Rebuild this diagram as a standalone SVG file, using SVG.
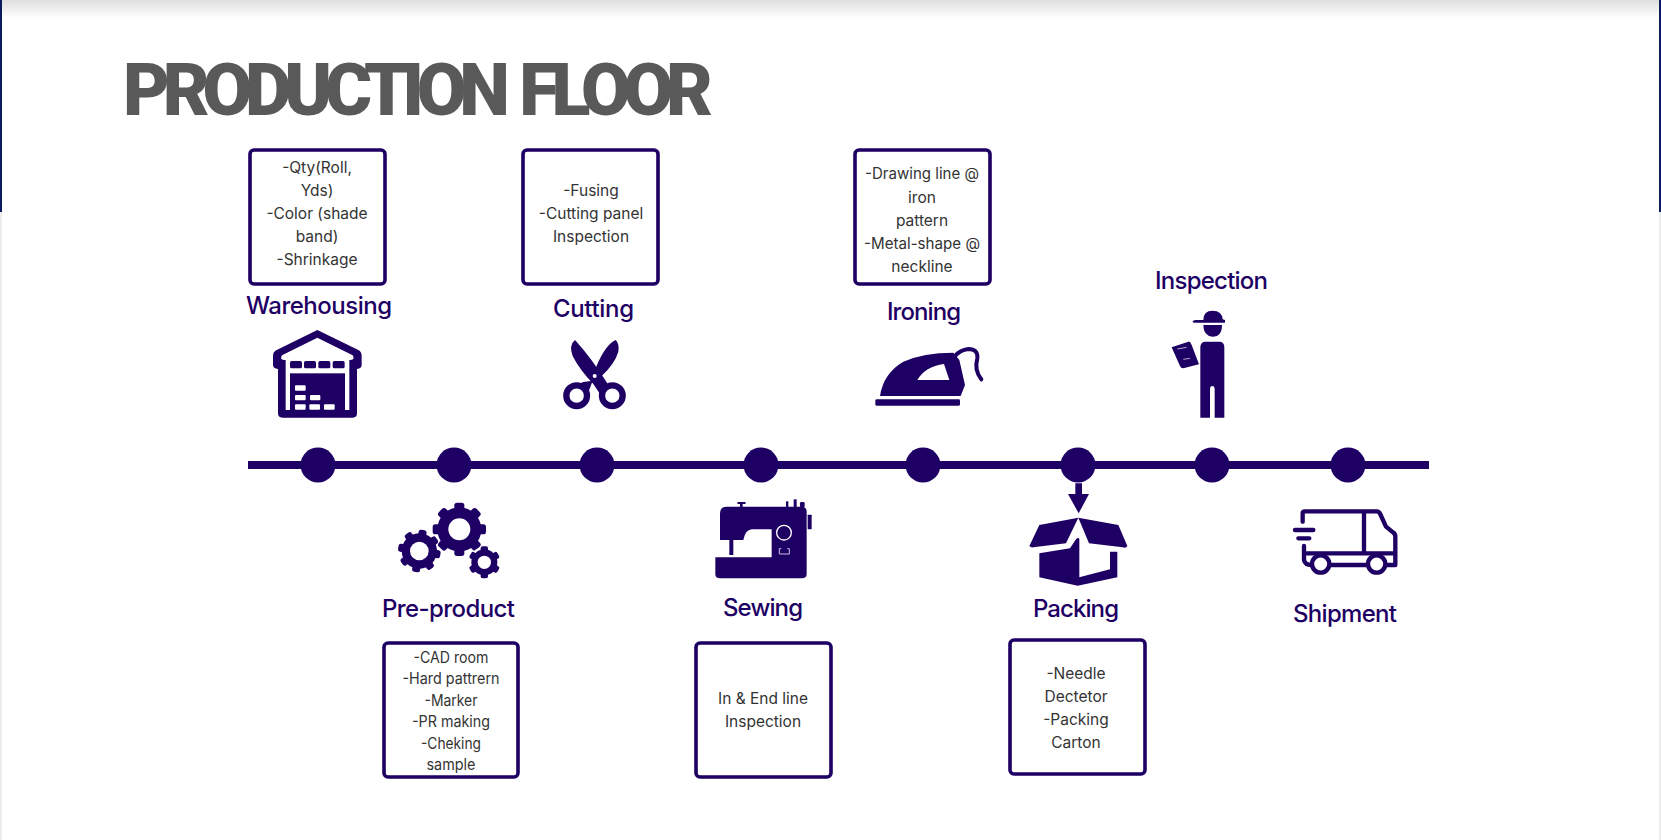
<svg xmlns="http://www.w3.org/2000/svg" width="1661" height="840" viewBox="0 0 1661 840">
<defs>
<linearGradient id="top" x1="0" y1="0" x2="0" y2="1"><stop offset="0" stop-color="#dedede"/><stop offset="1" stop-color="#ffffff"/></linearGradient>
<rect id="tooth1" x="-80" y="-15" width="160" height="30" rx="8"/>
<rect id="tooth2" x="-64" y="-12" width="128" height="24" rx="7"/>
<rect id="tooth3" x="-48" y="-11" width="96" height="22" rx="6"/>
</defs>
<style>
.n{fill:#1e0064}
.w{fill:#fff}
.s{fill:none;stroke:#1e0064;stroke-linecap:round;stroke-linejoin:round}
.box{fill:#fff;stroke:#1e0064;stroke-width:3.6}
.t{font-family:Inter,"Liberation Sans",sans-serif;font-size:15.5px;fill:#333;text-anchor:middle}
.l{font-family:Inter,"Liberation Sans",sans-serif;font-size:24px;font-weight:500;fill:#1e0064}
.title{font-family:Roboto,"Liberation Sans",sans-serif;font-size:72px;font-weight:900;fill:#595959;word-spacing:6px}
</style>
<rect width="1661" height="840" fill="#fff"/>
<rect width="1661" height="18" fill="url(#top)"/>
<rect x="0" y="0" width="2" height="212" fill="#0b1a5e"/>
<rect x="1659" y="0" width="2" height="212" fill="#0b1a5e"/>
<rect x="0" y="212" width="2" height="628" fill="#ececec"/>
<rect x="1659" y="212" width="2" height="628" fill="#ececec"/>
<text class="title" x="123" y="115" textLength="590" lengthAdjust="spacing">PRODUCTION FLOOR</text>

<g id="connectors"><rect class="n" x="248" y="461" width="1181" height="8"/></g>

<g id="dots" class="n">
<circle cx="318" cy="465" r="17.5"/><circle cx="454" cy="465" r="17.5"/><circle cx="597" cy="465" r="17.5"/><circle cx="761" cy="465" r="17.5"/><circle cx="923" cy="465" r="17.5"/><circle cx="1078" cy="465" r="17.5"/><circle cx="1212" cy="465" r="17.5"/><circle cx="1348" cy="465" r="17.5"/>
</g>

<g id="warehousing">
<rect class="box" x="250" y="150" width="135" height="134" rx="4"/>
<text class="t" x="317" y="173">-Qty(Roll,</text><text class="t" x="317" y="196">Yds)</text><text class="t" x="317" y="219">-Color (shade</text><text class="t" x="317" y="242">band)</text><text class="t" x="317" y="265">-Shrinkage</text>
<text class="l" x="246" y="314" textLength="146">Warehousing</text>
<g transform="translate(230 280) scale(.33333)">
<path class="n" d="M262 150L385 210Q395 215 395 228V255Q395 265 381 267V400Q381 413 368 413H157Q144 413 144 400V267Q129 265 129 255V228Q129 215 140 210Z"/>
<path class="w" d="M262 173L368 226Q376 240 362 240H162Q148 240 156 226Z"/>
<rect class="w" x="167" y="238" width="191" height="152"/>
<rect class="n" x="180" y="280" width="165" height="110"/>
<g class="n"><rect x="180" y="243" width="36" height="22" rx="5"/><rect x="222" y="243" width="36" height="22" rx="5"/><rect x="265" y="243" width="36" height="22" rx="5"/><rect x="308" y="243" width="36" height="22" rx="5"/></g>
<g class="w"><rect x="195" y="316" width="32" height="16" rx="3"/><rect x="195" y="345" width="32" height="16" rx="3"/><rect x="240" y="345" width="31" height="16" rx="3"/><rect x="195" y="373" width="32" height="16" rx="3"/><rect x="238" y="373" width="32" height="16" rx="3"/><rect x="282" y="373" width="32" height="16" rx="3"/></g>
</g>
</g>

<g id="pre-product">
<rect class="box" x="384" y="643" width="134" height="134" rx="4"/>
<text class="t" x="451" y="663" textLength="75" lengthAdjust="spacingAndGlyphs">-CAD room</text><text class="t" x="451" y="684" textLength="97" lengthAdjust="spacingAndGlyphs">-Hard pattrern</text><text class="t" x="451" y="706" textLength="53" lengthAdjust="spacingAndGlyphs">-Marker</text><text class="t" x="451" y="727" textLength="78" lengthAdjust="spacingAndGlyphs">-PR making</text><text class="t" x="451" y="749" textLength="60" lengthAdjust="spacingAndGlyphs">-Cheking</text><text class="t" x="451" y="770" textLength="49" lengthAdjust="spacingAndGlyphs">sample</text>
<text class="l" x="382" y="617" textLength="133">Pre-product</text>
<g transform="translate(370 480) scale(.33333)">
<g class="n" transform="translate(268 148)"><circle r="66"/><use href="#tooth1"/><use href="#tooth1" transform="rotate(45)"/><use href="#tooth1" transform="rotate(90)"/><use href="#tooth1" transform="rotate(135)"/></g>
<g class="n" transform="translate(148 213) rotate(10)"><circle r="53"/><use href="#tooth2"/><use href="#tooth2" transform="rotate(45)"/><use href="#tooth2" transform="rotate(90)"/><use href="#tooth2" transform="rotate(135)"/></g>
<circle class="w" cx="343" cy="247" r="46"/>
<g class="n" transform="translate(343 247)"><circle r="39"/><use href="#tooth3" transform="rotate(30)"/><use href="#tooth3" transform="rotate(90)"/><use href="#tooth3" transform="rotate(150)"/></g>
<circle class="w" cx="268" cy="148" r="33"/><circle class="w" cx="148" cy="213" r="28"/><circle class="w" cx="343" cy="247" r="20"/>
</g>
</g>

<g id="cutting">
<rect class="box" x="523" y="150" width="135" height="134" rx="4"/>
<text class="t" x="591" y="196">-Fusing</text><text class="t" x="591" y="219">-Cutting panel</text><text class="t" x="591" y="242">Inspection</text>
<text class="l" x="553" y="317" textLength="81">Cutting</text>
<g transform="translate(230 280) scale(.33333)">
<path class="n" d="M1035 180Q1016 195 1028 228Q1048 268 1090 312L1112 345L1132 310Q1085 235 1035 180Z"/>
<path class="n" d="M1157 180Q1125 195 1098 262L1115 288Q1155 250 1165 215Q1168 190 1157 180Z"/>
<path class="n" d="M1088 302L1072 345L1040 315L1060 306Z"/>
<circle cx="1040" cy="347" r="31" fill="none" stroke="#1e0064" stroke-width="19"/>
<circle cx="1147" cy="347" r="31" fill="none" stroke="#1e0064" stroke-width="19"/>
<circle class="w" cx="1094" cy="288" r="6"/>
</g>
</g>

<g id="sewing">
<rect class="box" x="696" y="643" width="135" height="134" rx="4"/>
<text class="t" x="763" y="704">In &amp; End line</text><text class="t" x="763" y="727">Inspection</text>
<text class="l" x="723" y="616" textLength="80">Sewing</text>
<g transform="translate(370 480) scale(.33333)">
<path class="n" d="M1050 180V100Q1050 80 1070 80H1295Q1310 80 1310 95V282Q1310 295 1295 295H1050Q1036 295 1036 282V232H1205V148H1145Q1125 150 1120 180Z"/>
<g class="n"><rect x="1078" y="180" width="12" height="45"/><rect x="1102" y="66" width="25" height="6" rx="2"/><rect x="1110" y="70" width="8" height="12"/><rect x="1248" y="64" width="7" height="18"/><rect x="1271" y="58" width="9" height="24"/><rect x="1290" y="66" width="14" height="16" rx="4"/><rect x="1313" y="104" width="12" height="44" rx="2"/></g>
<circle class="n" cx="1242" cy="158" r="22" stroke="#fff" stroke-width="4"/>
<path fill="none" stroke="#c9c0e6" stroke-width="3" d="M1234 206H1228V222H1258V206H1252"/>
</g>
</g>

<g id="ironing">
<rect class="box" x="855" y="150" width="135" height="134" rx="4"/>
<text class="t" x="922" y="179" textLength="114" lengthAdjust="spacingAndGlyphs">-Drawing line @</text><text class="t" x="922" y="203">iron</text><text class="t" x="922" y="226">pattern</text><text class="t" x="922" y="249" textLength="116" lengthAdjust="spacingAndGlyphs">-Metal-shape @</text><text class="t" x="922" y="272">neckline</text>
<text class="l" x="887" y="320" textLength="74">Ironing</text>
<g transform="translate(840 270) scale(.33333)">
<path class="n" d="M120 378Q130 310 190 275Q250 248 340 248L358 270L375 345L362 378Z"/>
<path class="w" d="M232 330Q255 290 312 282L328 330Z"/>
<rect class="n" x="106" y="388" width="254" height="19" rx="4"/>
<path class="s" stroke-width="12" d="M345 258Q360 240 385 237Q415 237 412 265Q402 300 424 328"/>
</g>
</g>

<g id="packing">
<rect class="box" x="1010" y="640" width="135" height="134" rx="4"/>
<text class="t" x="1076" y="679">-Needle</text><text class="t" x="1076" y="702">Dectetor</text><text class="t" x="1076" y="725">-Packing</text><text class="t" x="1076" y="748">Carton</text>
<text class="l" x="1033" y="617" textLength="86">Packing</text>
<g transform="translate(1000 470) scale(.33333)" class="n">
<path d="M226 40H246V72H267L236 130L204 72H226Z"/>
<path d="M235 143L118 165L88 228Q92 233 100 232L198 220Z"/>
<path d="M235 143L355 165L382 228Q378 235 368 232L267 220Z"/>
<path d="M118 250L210 235L228 208Q236 198 238 208V322L330 298V245H352V322L233 347L118 322Z"/>
</g>
</g>

<g id="inspection">
<text class="l" x="1155" y="289" textLength="113">Inspection</text>
<g transform="translate(840 270) scale(.33333)">
<path class="n" d="M1090 150Q1090 122 1118 122Q1146 122 1148 148L1155 150V158H1062Q1052 155 1065 150Z"/>
<path class="n" d="M1090 165H1146Q1146 200 1118 200Q1090 198 1090 165Z"/>
<path class="n" d="M1081 232Q1081 215 1097 215H1138Q1153 215 1153 232V443H1124V358Q1124 348 1117 348Q1110 348 1110 358V443H1081Z"/>
<path class="n" d="M995 232L1045 215Q1050 213 1055 225L1077 283L1030 295Q1022 295 1020 288Z"/>
<path fill="none" stroke="#fff" stroke-width="2" d="M1012 237L1040 232M1030 268L1050 265"/>
</g>
</g>

<g id="shipment">
<text class="l" x="1293" y="622" textLength="104">Shipment</text>
<g transform="translate(1000 470) scale(.33333)">
<path class="s" stroke-width="13" d="M908 155V130Q908 124 915 124H1130Q1138 124 1142 135L1158 170L1180 188Q1186 192 1186 200V285H1160M1100 285H990M935 285Q915 285 912 270V228M1092 124V250H915M1092 250H1186M885 180H940M895 205H928"/>
<circle cx="962" cy="282" r="26" fill="#fff" stroke="#1e0064" stroke-width="13"/>
<circle cx="1130" cy="282" r="26" fill="#fff" stroke="#1e0064" stroke-width="13"/>
</g>
</g>
</svg>
